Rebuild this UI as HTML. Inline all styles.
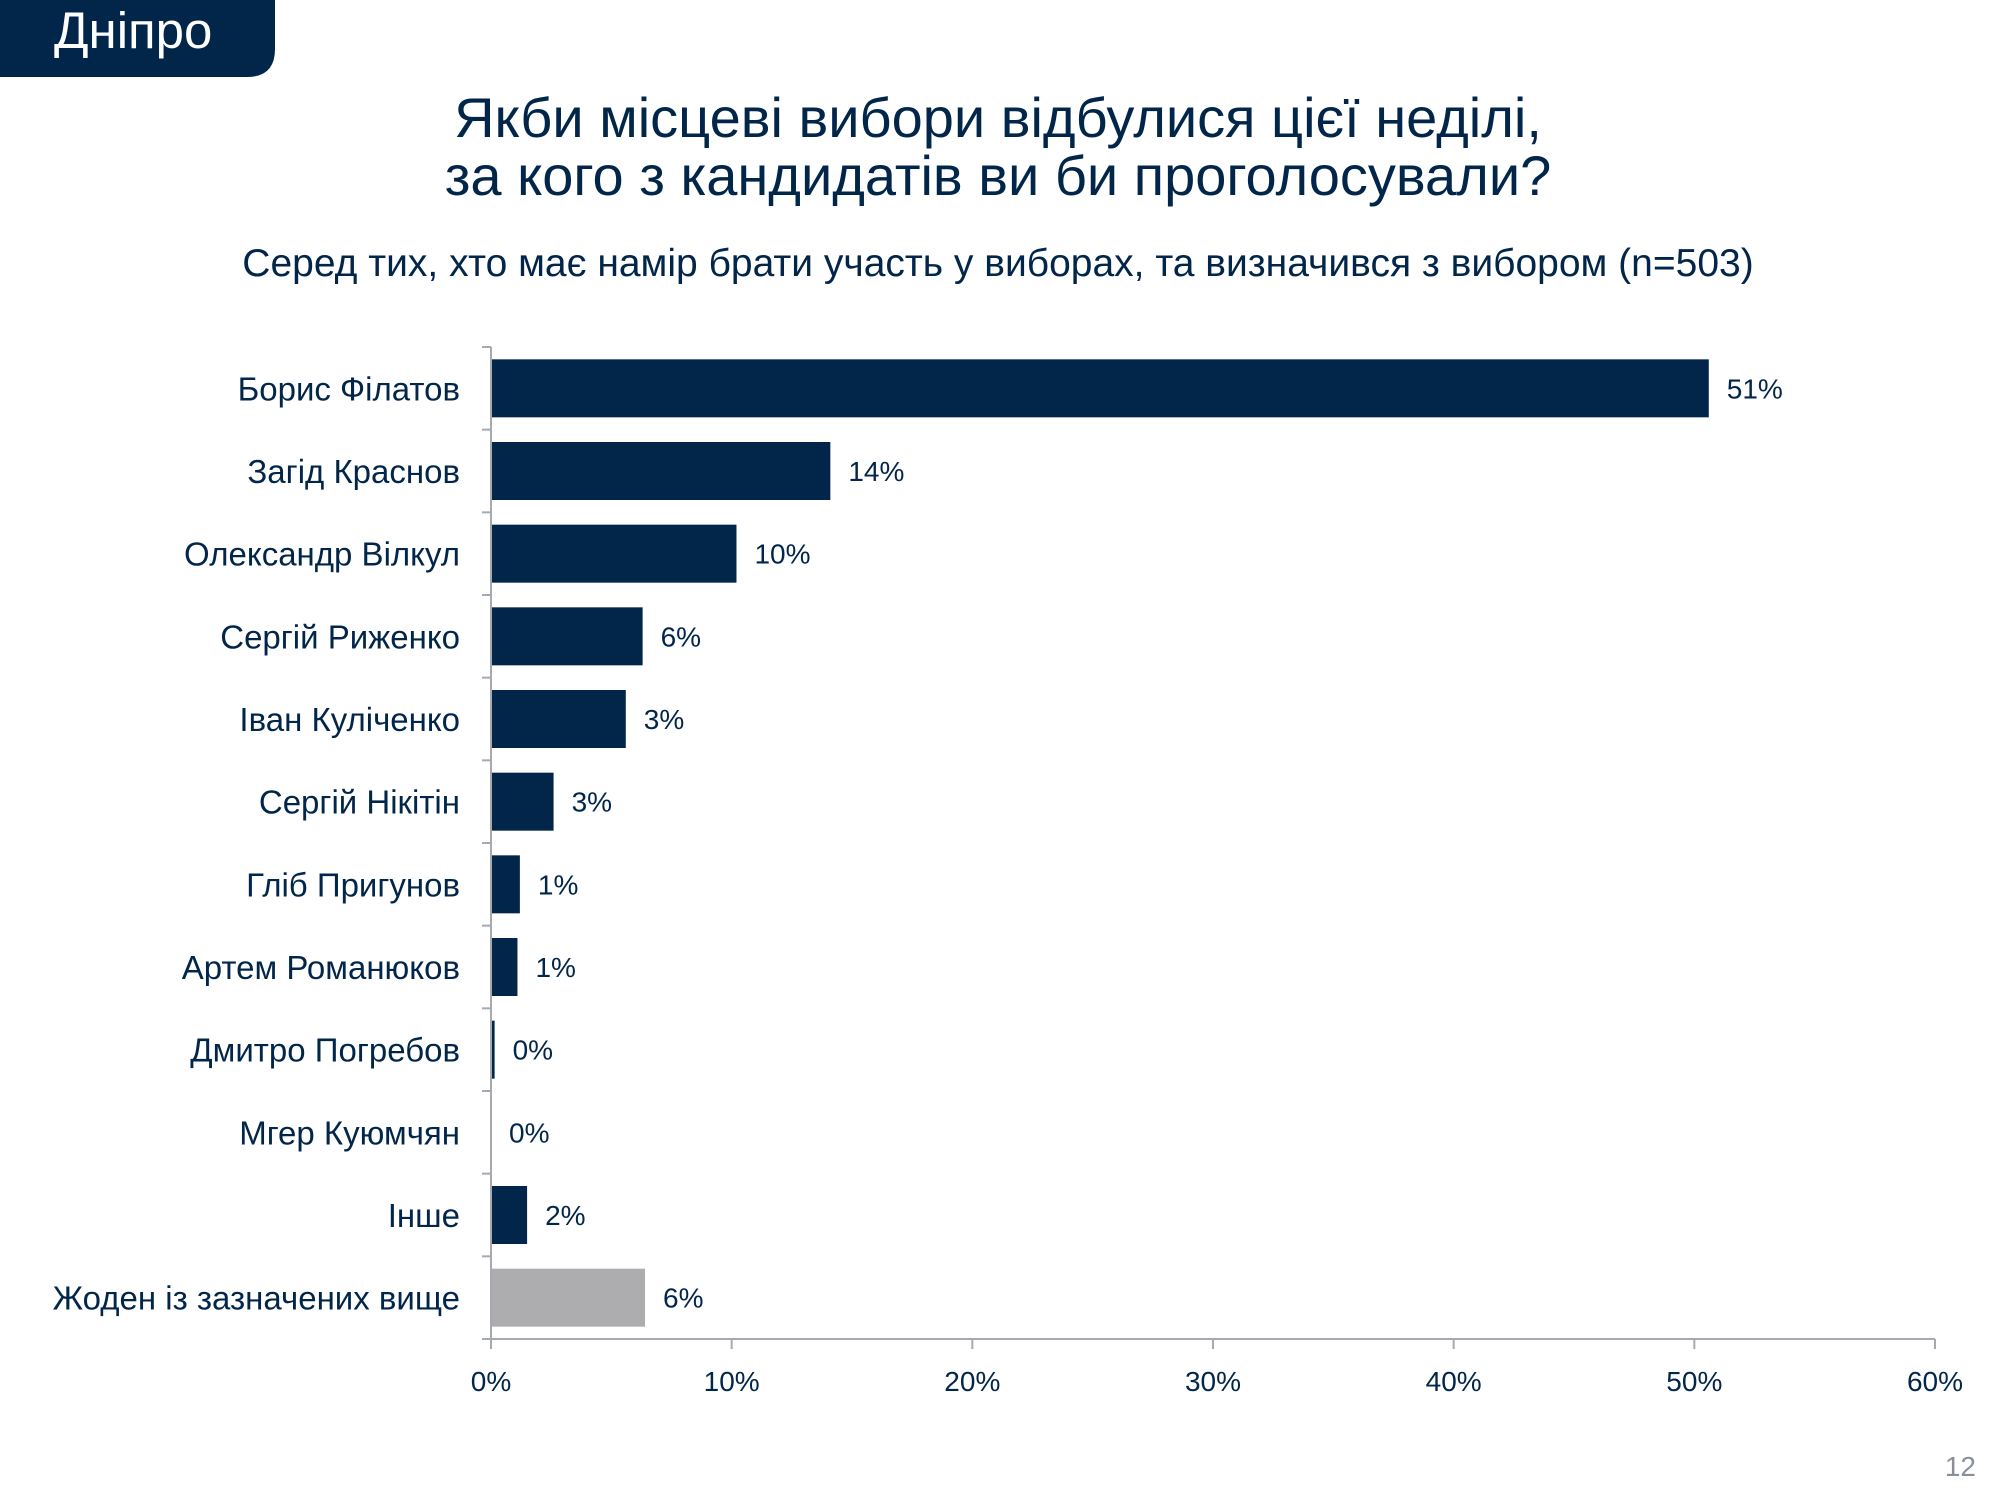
<!DOCTYPE html>
<html><head><meta charset="utf-8">
<style>
html,body{margin:0;padding:0;background:#fff;}
body{width:2000px;height:1500px;position:relative;overflow:hidden;font-family:"Liberation Sans","DejaVu Sans",sans-serif;color:#02264a;}
svg{position:absolute;left:0;top:0;}
</style></head>
<body>
<svg id="chart" width="2000" height="1500">
  <path d="M0 0 H275 V49 Q275 77 247 77 H0 Z" fill="#02264a"/>
  <text x="54" y="48" font-size="51" fill="#fff">Дніпро</text>
  <text x="998" y="137" font-size="56" text-anchor="middle" fill="#02264a">Якби місцеві вибори відбулися цієї неділі,</text>
  <text x="998" y="195" font-size="56" text-anchor="middle" fill="#02264a">за кого з кандидатів ви би проголосували?</text>
  <text x="998" y="276" font-size="39" text-anchor="middle" fill="#02264a">Серед тих, хто має намір брати участь у виборах, та визначився з вибором (n=503)</text>
  <text x="1976" y="1476" font-size="28" text-anchor="end" fill="#8a8f99">12</text>
</svg>
<script>
const categories = ["Борис Філатов","Загід Краснов","Олександр Вілкул","Сергій Риженко","Іван Куліченко","Сергій Нікітін","Гліб Пригунов","Артем Романюков","Дмитро Погребов","Мгер Куюмчян","Інше","Жоден із зазначених вище"];
const values = [50.6,14.1,10.2,6.3,5.6,2.6,1.2,1.1,0.15,0,1.5,6.4];
const valueLabels = ["51%","14%","10%","6%","3%","3%","1%","1%","0%","0%","2%","6%"];
const highlight = [0,0,0,0,0,0,0,0,0,0,0,1];
const xTicks = [0,10,20,30,40,50,60];

const svg = document.getElementById('chart');
const NS = 'http://www.w3.org/2000/svg';
const X0 = 491, X1 = 1935, TOP = 347, BOT = 1339;
const band = (BOT - TOP) / categories.length;
const xScale = v => X0 + (v / 60) * (X1 - X0);
const yScale = i => TOP + i * band;
function mk(tag, attrs, text){
  const e = document.createElementNS(NS, tag);
  for (const k in attrs) e.setAttribute(k, attrs[k]);
  if (text !== undefined) e.textContent = text;
  svg.appendChild(e);
  return e;
}
categories.forEach((c, i) => {
  const y = yScale(i);
  const bh = 58, by = y + (band - bh) / 2;
  const w = Math.max(0, xScale(values[i]) - X0);
  const r = mk('rect', {x: X0, y: by, width: w, height: bh, fill: highlight[i] ? '#adadaf' : '#02264a'});
  
  
  const lbl = mk('text', {x: 460, y: y + band / 2 + 12, 'font-size': 33, 'text-anchor': 'end', fill: '#02264a'}, c);
  
  
  const vl = mk('text', {x: X0 + w + 18, y: y + band / 2 + 10, 'font-size': 28, fill: '#02264a'}, valueLabels[i]);
  
  
});
for (let i = 0; i <= categories.length; i++) {
  const t = mk('line', {x1: X0 - 9, x2: X0, y1: yScale(i), y2: yScale(i), stroke: '#a6a9b0', 'stroke-width': 2});
  
  
}
const ya = mk('line', {x1: X0, x2: X0, y1: TOP, y2: BOT + 10, stroke: '#a6a9b0', 'stroke-width': 2});


const xa = mk('line', {x1: X0, x2: X1, y1: BOT, y2: BOT, stroke: '#a6a9b0', 'stroke-width': 2});


xTicks.forEach(t => {
  const x = xScale(t);
  const tk = mk('line', {x1: x, x2: x, y1: BOT, y2: BOT + 10, stroke: '#a6a9b0', 'stroke-width': 2});
  
  
  const tl = mk('text', {x: x, y: 1391, 'font-size': 28, 'text-anchor': 'middle', fill: '#02264a'}, t + '%');
  
  
});
</script>
</body></html>
